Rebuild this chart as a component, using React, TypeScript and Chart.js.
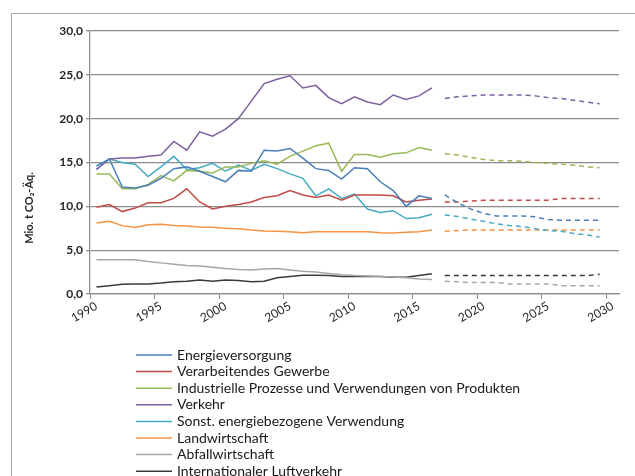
import React, { useEffect, useRef } from "react";
import { Chart, registerables } from "chart.js";

Chart.register(...registerables);

// Years on the category axis
const years: string[] = [];
for (let y = 1990; y <= 2030; y++) years.push(String(y));

const seriesNames = [
  "Energieversorgung",
  "Verarbeitendes Gewerbe",
  "Industrielle Prozesse und Verwendungen von Produkten",
  "Verkehr",
  "Sonst. energiebezogene Verwendung",
  "Landwirtschaft",
  "Abfallwirtschaft",
  "Internationaler Luftverkehr",
];

const seriesColors = [
  "#4A7EBB",
  "#BE4B48",
  "#98B954",
  "#7D60A0",
  "#46AAC5",
  "#F69240",
  "#A6A6A6",
  "#3A3A3A",
];

// Historical values 1990–2016
const energieHist = [14.6, 15.4, 12.2, 12.1, 12.4, 13.2, 14.3, 14.5, 14.0, 13.4, 12.8, 14.1, 14.0, 16.4, 16.3, 16.6, 15.5, 14.3, 14.1, 13.1, 14.4, 14.3, 12.8, 11.8, 10.0, 11.2, 10.9];
const gewerbeHist = [9.9, 10.2, 9.4, 9.8, 10.4, 10.4, 10.9, 12.0, 10.5, 9.7, 10.0, 10.2, 10.5, 11.0, 11.2, 11.8, 11.3, 11.0, 11.3, 10.7, 11.3, 11.3, 11.3, 11.2, 10.5, 10.7, 10.85];
const industrieHist = [13.7, 13.7, 12.0, 12.0, 12.5, 13.5, 12.9, 14.1, 14.0, 13.8, 14.5, 14.5, 14.9, 15.2, 14.8, 15.7, 16.3, 16.9, 17.2, 14.0, 15.9, 15.9, 15.6, 16.0, 16.1, 16.7, 16.4];
const verkehrHist = [14.2, 15.4, 15.5, 15.5, 15.7, 15.85, 17.4, 16.4, 18.5, 18.0, 18.8, 20.0, 22.0, 24.0, 24.5, 24.9, 23.5, 23.8, 22.4, 21.7, 22.5, 21.9, 21.6, 22.7, 22.2, 22.6, 23.5];
const sonstHist = [14.2, 15.4, 15.0, 14.8, 13.4, 14.5, 15.7, 14.2, 14.4, 14.9, 14.0, 14.7, 14.1, 14.8, 14.3, 13.7, 13.2, 11.2, 12.0, 10.9, 11.4, 9.7, 9.3, 9.5, 8.6, 8.7, 9.1];
const landHist = [8.1, 8.3, 7.8, 7.6, 7.9, 7.95, 7.8, 7.75, 7.65, 7.6, 7.5, 7.45, 7.3, 7.2, 7.15, 7.1, 7.0, 7.1, 7.1, 7.1, 7.1, 7.1, 7.0, 6.95, 7.05, 7.1, 7.3];
const abfallHist = [3.9, 3.9, 3.9, 3.9, 3.7, 3.55, 3.4, 3.25, 3.2, 3.05, 2.9, 2.8, 2.75, 2.85, 2.9, 2.75, 2.6, 2.5, 2.35, 2.2, 2.1, 2.05, 2.0, 1.95, 1.85, 1.7, 1.65];
const luftHist = [0.8, 0.95, 1.1, 1.15, 1.15, 1.25, 1.4, 1.45, 1.6, 1.45, 1.6, 1.55, 1.4, 1.45, 1.85, 2.0, 2.15, 2.15, 2.1, 2.0, 2.0, 2.0, 2.0, 1.9, 1.9, 2.1, 2.3];

// Projections 2017–2029
const energieProj = [11.3, 10.4, 9.7, 9.2, 8.9, 8.9, 8.9, 8.8, 8.5, 8.4, 8.4, 8.4, 8.4];
const gewerbeProj = [10.5, 10.5, 10.6, 10.7, 10.7, 10.7, 10.7, 10.7, 10.7, 10.9, 10.9, 10.9, 10.9];
const industrieProj = [16.0, 15.85, 15.6, 15.35, 15.2, 15.2, 15.15, 15.0, 14.9, 14.8, 14.7, 14.5, 14.4];
const verkehrProj = [22.3, 22.5, 22.6, 22.7, 22.7, 22.7, 22.7, 22.6, 22.4, 22.3, 22.1, 21.9, 21.7];
const sonstProj = [9.0, 8.85, 8.55, 8.3, 8.0, 7.8, 7.7, 7.45, 7.25, 7.15, 6.9, 6.75, 6.5];
const landProj = [7.15, 7.25, 7.3, 7.3, 7.3, 7.3, 7.3, 7.3, 7.3, 7.3, 7.3, 7.3, 7.3];
const abfallProj = [1.45, 1.4, 1.3, 1.3, 1.3, 1.15, 1.15, 1.15, 1.15, 0.95, 0.95, 0.95, 0.95];
const luftProj = [2.1, 2.1, 2.1, 2.1, 2.1, 2.1, 2.1, 2.1, 2.1, 2.1, 2.1, 2.1, 2.25];

const histSeries = [energieHist, gewerbeHist, industrieHist, verkehrHist, sonstHist, landHist, abfallHist, luftHist];
const projSeries = [energieProj, gewerbeProj, industrieProj, verkehrProj, sonstProj, landProj, abfallProj, luftProj];

const yTicks = [0, 5, 10, 15, 20, 25, 30];
const yTitle = "Mio. t CO\u2082-\u00C4q.";

const FONT = "Lato, 'Open Sans', sans-serif";
const GRID = "#8c8c8c";

const decorPlugin = {
  id: "decor",
  beforeDraw(chart: any) {
    const ctx = chart.ctx;
    ctx.save();
    ctx.strokeStyle = "#a6a6a6";
    ctx.lineWidth = 1;
    ctx.beginPath();
    ctx.moveTo(11.5, 476);
    ctx.lineTo(11.5, 13.5);
    ctx.lineTo(635, 13.5);
    ctx.stroke();
    ctx.restore();
  },
  afterDraw(chart: any) {
    const ctx = chart.ctx;
    // y axis title
    ctx.save();
    ctx.translate(29, 208);
    ctx.rotate(-Math.PI / 2);
    ctx.font = "bold 11px " + FONT;
    ctx.fillStyle = "#262626";
    ctx.textAlign = "center";
    ctx.textBaseline = "middle";
    ctx.fillText(yTitle, 0, 0);
    ctx.restore();
    // legend
    ctx.save();
    ctx.font = "14px " + FONT;
    ctx.textBaseline = "middle";
    ctx.textAlign = "left";
    seriesNames.forEach((name, i) => {
      const y = 355 + i * 16.6;
      ctx.strokeStyle = seriesColors[i];
      ctx.lineWidth = 1.5;
      ctx.beginPath();
      ctx.moveTo(136, y);
      ctx.lineTo(172, y);
      ctx.stroke();
      ctx.fillStyle = "#1a1a1a";
      ctx.fillText(name, 177, y);
    });
    ctx.restore();
  },
};

export default function App() {
  const ref = useRef<HTMLCanvasElement | null>(null);
  useEffect(() => {
    document.body.style.margin = "0";
    if (!ref.current) return;
    const nHist = histSeries[0].length;
    const datasets: any[] = [];
    histSeries.forEach((vals, i) => {
      const data = years.map((_, k) => (k < nHist ? vals[k] : null));
      datasets.push({
        label: seriesNames[i],
        data,
        borderColor: seriesColors[i],
        backgroundColor: seriesColors[i],
        borderWidth: 1.5,
        pointRadius: 0,
        fill: false,
        tension: 0,
      });
    });
    projSeries.forEach((vals, i) => {
      const data = years.map((_, k) => (k >= nHist && k - nHist < vals.length ? vals[k - nHist] : null));
      datasets.push({
        label: seriesNames[i] + " (Projektion)",
        data,
        borderColor: seriesColors[i],
        backgroundColor: seriesColors[i],
        borderWidth: 1.5,
        borderDash: [5, 4],
        pointRadius: 0,
        fill: false,
        tension: 0,
      });
    });

    const chart = new Chart(ref.current, {
      type: "line",
      data: { labels: years, datasets },
      options: {
        animation: false,
        responsive: false,
        layout: { padding: { left: 11, top: 31, right: 16, bottom: 152 } },
        plugins: { legend: { display: false }, tooltip: { enabled: false } },
        scales: {
          x: {
            type: "category",
            offset: true,
            afterFit: (s: any) => {
              s.height = 30;
            },
            grid: {
              offset: true,
              drawOnChartArea: false,
              drawTicks: true,
              tickLength: 5,
              lineWidth: 1,
              color: (c: any) => (typeof c.index === "number" && c.index % 5 === 0 ? GRID : "rgba(0,0,0,0)"),
            },
            border: { display: true, color: GRID, width: 1.3 },
            ticks: {
              autoSkip: false,
              maxRotation: 30,
              minRotation: 30,
              padding: 0,
              color: "#262626",
              font: { family: FONT, size: 12 },
              callback: (_v: any, idx: number) => (Number(years[idx]) % 5 === 0 ? years[idx] : ""),
            },
          },
          y: {
            min: yTicks[0],
            max: yTicks[yTicks.length - 1],
            afterFit: (s: any) => {
              s.width = 79;
            },
            afterBuildTicks: (s: any) => {
              s.ticks = yTicks.map((v) => ({ value: v }));
            },
            grid: { color: GRID, lineWidth: 1.3, tickLength: 4, drawTicks: true },
            border: { display: true, color: GRID, width: 1.3 },
            ticks: {
              padding: 3,
              color: "#262626",
              font: { family: FONT, size: 12, weight: "bold" },
              callback: (v: any) => Number(v).toFixed(1).replace(".", ","),
            },
          },
        },
      },
      plugins: [decorPlugin],
    });
    return () => chart.destroy();
  }, []);
  return <canvas ref={ref} width={635} height={476} style={{ display: "block", width: 635, height: 476 }} />;
}
